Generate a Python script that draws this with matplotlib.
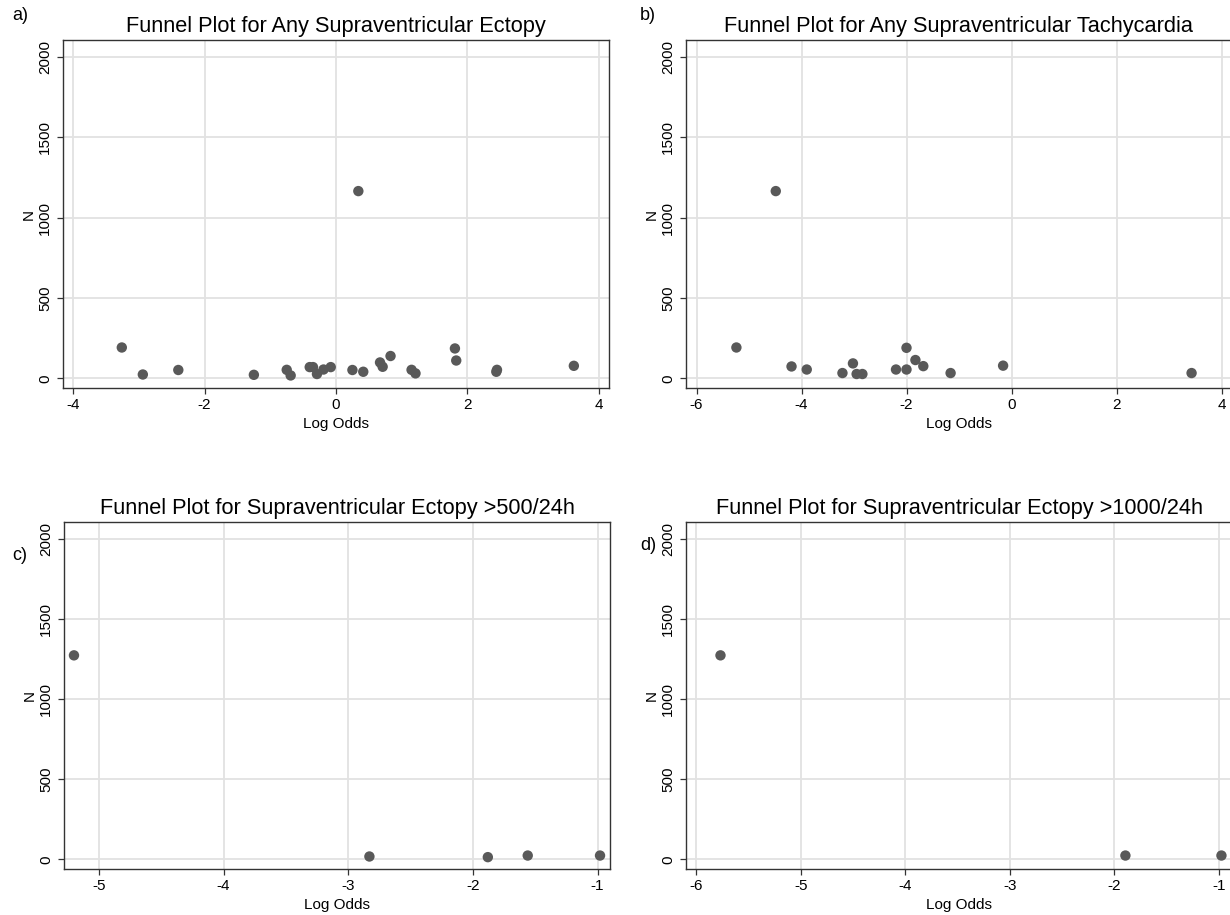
import matplotlib
matplotlib.use("Agg")
import matplotlib.pyplot as plt

plt.rcParams["font.family"] = ["Liberation Sans", "DejaVu Sans"]
plt.rcParams["axes.unicode_minus"] = False

W, H = 1230, 915

# panel a: any supraventricular ectopy
a_log_odds = [-3.26, -2.94, -2.40, -1.25, -0.75, -0.69, -0.40, -0.35, -0.29, -0.19, -0.08,
              0.25, 0.415, 0.67, 0.71, 0.83, 1.15, 1.21, 1.81, 1.83, 2.44, 2.45, 3.62, 0.34]
a_n = [192, 24, 52, 22, 53, 18, 70, 70, 27, 55, 70,
       52, 41, 99, 72, 139, 53, 31, 186, 111, 41, 53, 78, 1165]

# panel b: any supraventricular tachycardia
b_log_odds = [-5.24, -4.49, -4.19, -3.90, -3.22, -3.02, -2.95, -2.84, -2.20, -2.00, -2.00,
              -1.83, -1.68, -1.16, -0.16, 3.43]
b_n = [192, 1165, 74, 55, 33, 93, 27, 27, 55, 190, 55, 114, 76, 33, 79, 33]

# panel c: ectopy >500/24h
c_log_odds = [-5.20, -2.83, -1.88, -1.56, -0.98]
c_n = [1273, 18, 14, 24, 24]

# panel d: ectopy >1000/24h
d_log_odds = [-5.77, -1.895, -0.976]
d_n = [1273, 24, 24]

titles = [
    "Funnel Plot for Any Supraventricular Ectopy",
    "Funnel Plot for Any Supraventricular Tachycardia",
    "Funnel Plot for Supraventricular Ectopy >500/24h",
    "Funnel Plot for Supraventricular Ectopy >1000/24h",
]
panel_tags = ["a)", "b)", "c)", "d)"]
x_ticks = [
    [-4, -2, 0, 2, 4],
    [-6, -4, -2, 0, 2, 4],
    [-5, -4, -3, -2, -1],
    [-6, -5, -4, -3, -2, -1],
]
y_ticks = [0, 500, 1000, 1500, 2000]
x_limits = [(-4.155, 4.155), (-6.2, 4.2), (-5.28, -0.90), (-6.1, -0.875)]

# axes boxes in pixels: left, top, right, bottom
boxes = [(63, 40, 609, 388), (686, 40, 1232, 388), (64, 522, 610, 869), (686, 522, 1232, 869)]
tag_pos = [(20, 15), (648, 15), (20, 555), (648, 545)]

data = [(a_log_odds, a_n), (b_log_odds, b_n), (c_log_odds, c_n), (d_log_odds, d_n)]

fig = plt.figure(figsize=(W / 100, H / 100), dpi=100)
fig.patch.set_facecolor("white")

for i, (xs, ns) in enumerate(data):
    left, top, right, bottom = boxes[i]
    ax = fig.add_axes([left / W, 1 - bottom / H, (right - left) / W, (bottom - top) / H])
    ax.scatter(xs, ns, s=56, color="#595959", edgecolors="none", zorder=3)
    ax.set_xlim(*x_limits[i])
    ax.set_ylim(-60, 2105)
    ax.set_xticks(x_ticks[i])
    ax.set_yticks(y_ticks)
    ax.grid(True, color="#e2e2e2", linewidth=1.3, zorder=0)
    ax.set_axisbelow(True)
    for sp in ax.spines.values():
        sp.set_color("#333333")
        sp.set_linewidth(1.0)
    ax.tick_params(axis="both", length=4, width=0.9, color="#333333", labelsize=11)
    ax.tick_params(axis="x", pad=3)
    ax.tick_params(axis="y", pad=4, labelrotation=90)
    for lab in ax.get_yticklabels():
        lab.set_va("center")
    ax.set_xlabel("Log Odds", fontsize=11, labelpad=4)
    ax.set_ylabel("N", fontsize=11, labelpad=1.5)
    ax.set_title(titles[i], fontsize=15.7, pad=6)
    fig.text(tag_pos[i][0] / W, 1 - tag_pos[i][1] / H, panel_tags[i],
             fontsize=13, ha="center", va="center")

fig.savefig("out.png", dpi=100)
